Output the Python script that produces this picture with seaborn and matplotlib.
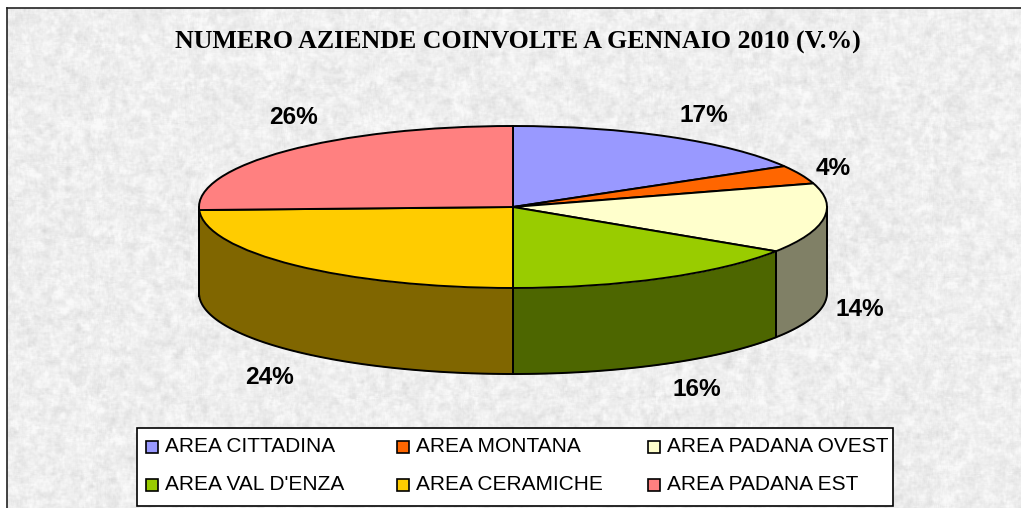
import numpy as np
import matplotlib
matplotlib.use("Agg")
import matplotlib.pyplot as plt
from matplotlib.patches import Rectangle
import seaborn as sns

# Dati
CATEGORIES = ["AREA CITTADINA", "AREA MONTANA", "AREA PADANA OVEST",
              "AREA VAL D'ENZA", "AREA CERAMICHE", "AREA PADANA EST"]
SHARES = [16.6, 3.7, 13.9, 15.8, 24.4, 25.6]
LABELS = ["17%", "4%", "14%", "16%", "24%", "26%"]
TITLE = "NUMERO AZIENDE COINVOLTE A GENNAIO 2010 (V.%)"

TOP_COLORS = ["#9999FF", "#FF6600", "#FFFFCC", "#99CC00", "#FFCC00", "#FF8080"]
SIDE_COLORS = ["#4D4D80", "#803300", "#808066", "#4D6600", "#806600", "#804040"]

W, H = 1021, 508
LABEL_POS = [(704, 115), (833, 168), (860, 310), (697, 390), (270, 378), (293, 118)]


def px_box(x0, y0, x1, y1):
    return [x0 / W, 1 - y1 / H, (x1 - x0) / W, (y1 - y0) / H]


def texture():
    # Sfondo marmorizzato chiaro
    rng = np.random.default_rng(7)
    h, w = H + 10, W + 10
    img = np.zeros((h, w))
    for size, amp in [(3, 0.7), (7, 1.0), (15, 0.35)]:
        noise = rng.normal(size=(h, w))
        k = np.ones(size) / size
        noise = np.apply_along_axis(lambda r: np.convolve(r, k, mode="same"), 1, noise)
        noise = np.apply_along_axis(lambda r: np.convolve(r, k, mode="same"), 0, noise)
        img += amp * noise / noise.std()
    img = 238 + 4.0 * img
    return np.clip(img, 205, 250) / 255


def main():
    sns.set_theme(style="white")
    palette = sns.color_palette(TOP_COLORS)
    side_palette = sns.color_palette(SIDE_COLORS)

    fig = plt.figure(figsize=(W / 100, H / 100), dpi=100, facecolor="white")

    # Sfondo e cornice (i lati destro e inferiore cadono fuori dall'immagine)
    bg = fig.add_axes(px_box(7, 8, W + 5, H + 5), zorder=0)
    bg.imshow(texture(), cmap="gray", vmin=0, vmax=1, aspect="auto",
              interpolation="bilinear")
    bg.set_xticks([])
    bg.set_yticks([])
    for s in bg.spines.values():
        s.set_color("#222222")
        s.set_linewidth(1.2)

    # Torta: ellisse ottenuta con assi a proporzioni libere
    ax = fig.add_axes(px_box(199, 126, 827, 288), zorder=1)
    ax.patch.set_alpha(0)
    wedges, _ = ax.pie(SHARES, colors=palette, startangle=90, counterclock=False,
                       radius=1, wedgeprops=dict(edgecolor="black", linewidth=1.4))
    ax.set_aspect("auto")
    ax.set_xlim(-1, 1)
    ax.set_ylim(-1, 1)
    for w in wedges:
        w.set_clip_on(False)
        w.set_zorder(3)

    # Spessore del disco: solo la meta' frontale
    depth = 86 / 81
    edges = np.cumsum([0] + SHARES) / 100 * 360
    for i in range(len(SHARES)):
        a0, a1 = max(edges[i], 90), min(edges[i + 1], 270)
        if a1 <= a0:
            continue
        t = np.radians(np.linspace(a0, a1, 100))
        x = np.sin(t)
        y = np.cos(t)
        ax.fill_between(x, y - depth, y, color=side_palette[i], lw=0, clip_on=False, zorder=2)
        ax.plot(x, y - depth, color="black", lw=1.4, clip_on=False, zorder=2.5)
        ax.plot([x[0], x[0]], [y[0], y[0] - depth], color="black", lw=1.4, clip_on=False, zorder=2.5)
        ax.plot([x[-1], x[-1]], [y[-1], y[-1] - depth], color="black", lw=1.4, clip_on=False, zorder=2.5)

    # Titolo ed etichette
    fig.text(518 / W, 1 - 42 / H, TITLE, ha="center", va="center", color="black",
             family="Liberation Serif", weight="bold", fontsize=18.6, zorder=5)
    for (px, py), lab in zip(LABEL_POS, LABELS):
        fig.text(px / W, 1 - py / H, lab, ha="center", va="center", color="black",
                 family="Liberation Sans", weight="bold", fontsize=17.6, zorder=5)

    # Legenda
    fig.add_artist(Rectangle((137 / W, 1 - 506 / H), 756 / W, 78 / H, transform=fig.transFigure,
                             facecolor="white", edgecolor="black", linewidth=1.2, zorder=4))
    col_x = [146, 397, 648]
    row_y = [447, 485]
    for i, name in enumerate(CATEGORIES):
        x = col_x[i % 3]
        y = row_y[i // 3]
        fig.add_artist(Rectangle((x / W, 1 - (y + 6) / H), 12 / W, 12 / H, transform=fig.transFigure,
                                 facecolor=palette[i], edgecolor="black", linewidth=1.2, zorder=5))
        fig.text((x + 19) / W, 1 - y / H, name, ha="left", va="center", color="black",
                 family="Liberation Sans", fontsize=15, zorder=5)

    fig.savefig("out.png", dpi=100)


if __name__ == "__main__":
    main()
